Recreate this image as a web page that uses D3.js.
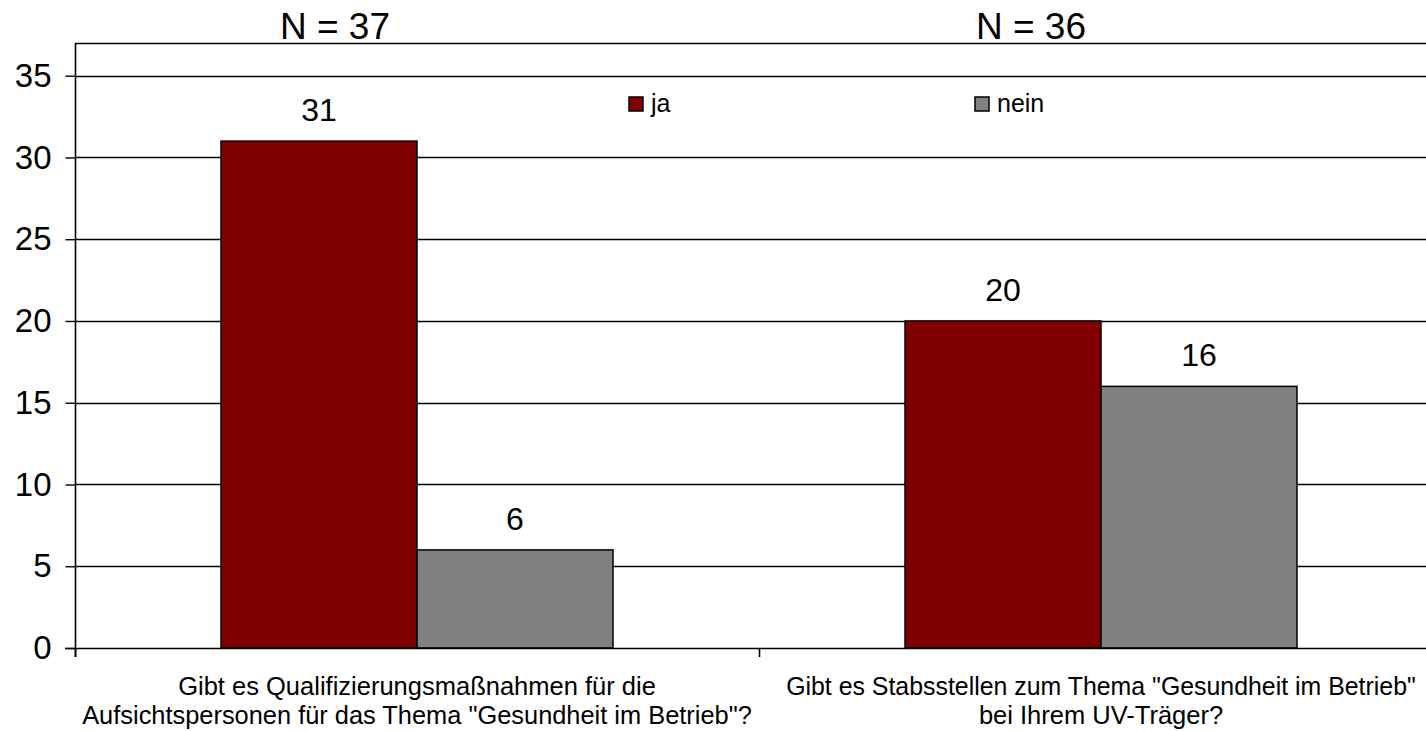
<!DOCTYPE html>
<html>
<head>
<meta charset="utf-8">
<script src="https://cdn.jsdelivr.net/npm/d3@7"></script>
<style>
  html, body { margin: 0; padding: 0; background: #fff; }
  svg { display: block; font-family: "Liberation Sans", Arial, sans-serif; }
</style>
</head>
<body>
<svg id="chart" width="1426" height="731"></svg>
<script>
// ---- data ----
const categories = [
  ["Gibt es Qualifizierungsmaßnahmen für die", "Aufsichtspersonen für das Thema \"Gesundheit im Betrieb\"?"],
  ["Gibt es Stabsstellen zum Thema \"Gesundheit im Betrieb\"", "bei Ihrem UV-Träger?"]
];
const categoryKeys = ["q1", "q2"];
const seriesNames = ["ja", "nein"];
const jaValues = [31, 20];
const neinValues = [6, 16];
const nLabels = ["N = 37", "N = 36"];
const yTicks = [0, 5, 10, 15, 20, 25, 30, 35];
const colors = ["#800000", "#808080"];

(function () {
// ---- layout ----
const svg = d3.select("#chart");
const pLeft = 75, pTop = 43, pBottom = 648, pRight = 1443;

const y = d3.scaleLinear().domain([0, 37]).range([pBottom, pTop]);
const x0 = d3.scaleBand().domain(categoryKeys).range([pLeft, pRight]).padding(0);
const x1 = d3.scaleBand().domain(seriesNames).range([0, x0.bandwidth()])
  .paddingInner(0).paddingOuter(0.745);

const g = svg.append("g");

// gridlines
g.append("g").selectAll("line").data(yTicks.filter(d => d > 0)).join("line")
  .attr("x1", pLeft).attr("x2", pRight)
  .attr("y1", d => Math.round(y(d)) + 0.5).attr("y2", d => Math.round(y(d)) + 0.5)
  .attr("stroke", "#000").attr("stroke-width", 1.4);

// top border
g.append("line").attr("x1", pLeft).attr("x2", pRight)
  .attr("y1", pTop + 0.5).attr("y2", pTop + 0.5)
  .attr("stroke", "#000").attr("stroke-width", 1.6);

// y axis
const yAxis = d3.axisLeft(y).tickValues(yTicks).tickSize(10).tickPadding(14);
const yg = g.append("g").attr("transform", `translate(${pLeft + 0.5},0)`).call(yAxis);
yg.select(".domain").attr("stroke", "#000").attr("stroke-width", 1.6)
  .attr("d", `M0,${pTop}V${pBottom + 9}`);
yg.selectAll(".tick line").attr("stroke", "#000").attr("stroke-width", 1.4);
yg.selectAll(".tick text").attr("font-size", 33).attr("fill", "#000")
  .attr("font-family", "Liberation Sans, Arial, sans-serif");

// bars
const data = categoryKeys.map((k, i) => ({ key: k, values: [jaValues[i], neinValues[i]] }));
const groups = g.append("g").selectAll("g").data(data).join("g")
  .attr("transform", d => `translate(${x0(d.key)},0)`);
groups.selectAll("rect").data(d => d.values.map((v, j) => ({ s: seriesNames[j], v, j })))
  .join("rect")
  .attr("x", d => x1(d.s))
  .attr("y", d => y(d.v))
  .attr("width", x1.bandwidth())
  .attr("height", d => y(0) - y(d.v))
  .attr("fill", d => colors[d.j])
  .attr("stroke", "#000").attr("stroke-width", 1.5);

groups.selectAll("text.val").data(d => d.values.map((v, j) => ({ s: seriesNames[j], v, j })))
  .join("text").attr("class", "val")
  .attr("x", d => x1(d.s) + x1.bandwidth() / 2)
  .attr("y", d => y(d.v) - 20)
  .attr("text-anchor", "middle").attr("font-size", 32).attr("fill", "#000")
  .text(d => d.v);

// x axis
g.append("line").attr("x1", pLeft - 10).attr("x2", pRight)
  .attr("y1", pBottom + 0.5).attr("y2", pBottom + 0.5)
  .attr("stroke", "#000").attr("stroke-width", 1.6);
const xTickPos = categoryKeys.map(k => x0(k)).concat([pRight]);
g.append("g").selectAll("line").data(xTickPos).join("line")
  .attr("x1", d => d + 0.5).attr("x2", d => d + 0.5)
  .attr("y1", pBottom).attr("y2", pBottom + 9)
  .attr("stroke", "#000").attr("stroke-width", 1.6);

// category labels
const baseFont = 25.5;
categoryKeys.forEach((k, i) => {
  const cx = x0(k) + x0.bandwidth() / 2;
  const maxW = 2 * (1420 - cx) < 670 ? 2 * (1420 - cx) - 8 : 670;
  categories[i].forEach((line, li) => {
    const t = g.append("text")
      .attr("x", cx).attr("y", 695 + li * 29)
      .attr("text-anchor", "middle").attr("font-size", baseFont).attr("fill", "#000")
      .text(line);
    const w = t.node().getComputedTextLength();
    if (w > maxW) t.attr("font-size", baseFont * maxW / w);
  });
});

// N labels
const nOffsets = [-82, -70];
categoryKeys.forEach((k, i) => {
  g.append("text")
    .attr("x", x0(k) + x0.bandwidth() / 2 + nOffsets[i]).attr("y", 39)
    .attr("text-anchor", "middle").attr("font-size", 37).attr("fill", "#000")
    .text(nLabels[i]);
});

// legend
const legendX = [629, 975];
seriesNames.forEach((s, i) => {
  g.append("rect").attr("x", legendX[i]).attr("y", 97).attr("width", 14).attr("height", 14)
    .attr("fill", colors[i]).attr("stroke", "#000").attr("stroke-width", 1.5);
  g.append("text").attr("x", legendX[i] + 22).attr("y", 112)
    .attr("font-size", 25).attr("fill", "#000").text(s);
});
})();
</script>
</body>
</html>
